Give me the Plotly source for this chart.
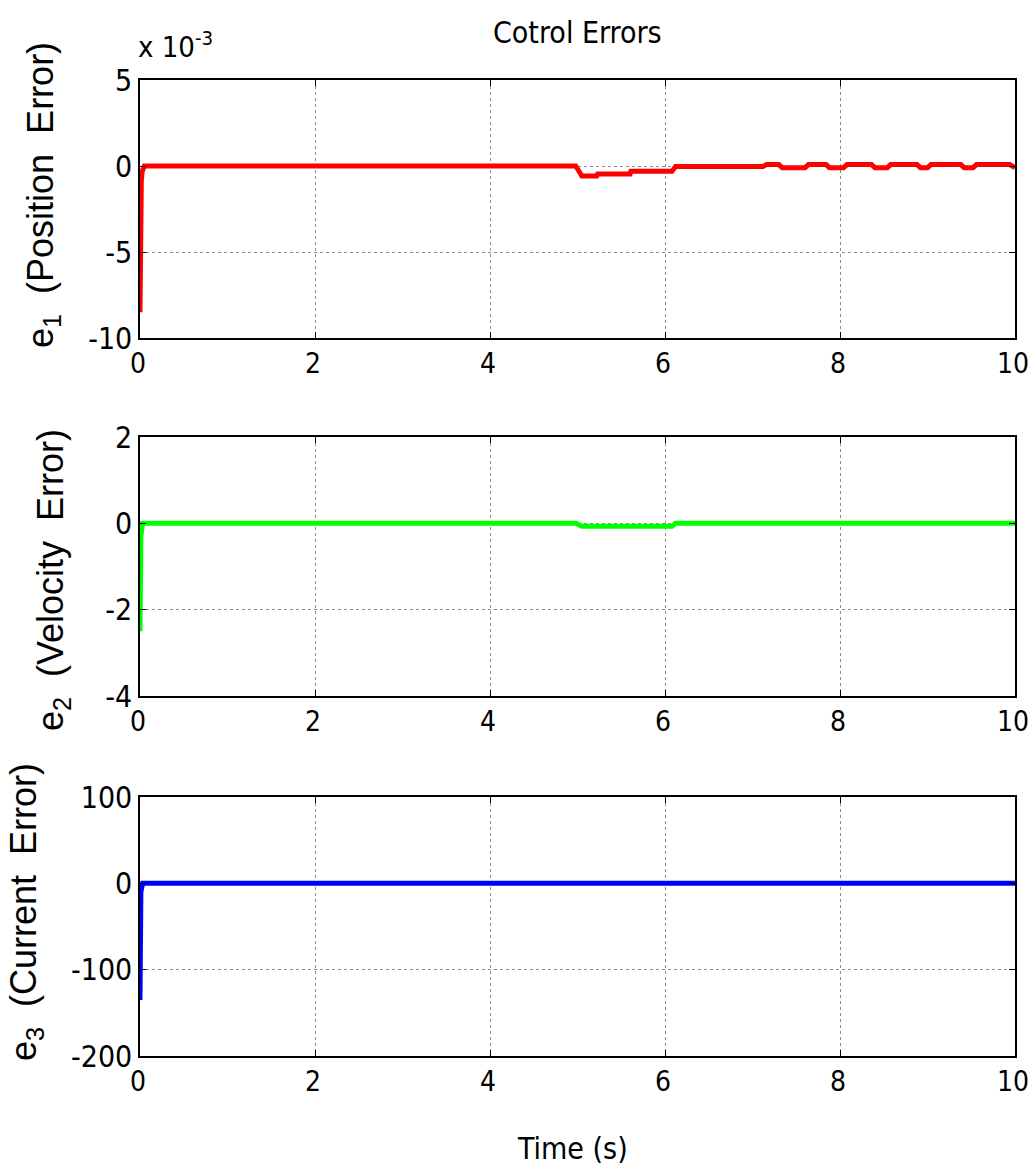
import plotly.graph_objects as go

# ---- data ----
t1 = [0, 0.003, 0.008, 0.015, 0.025, 0.05, 4.98, 5.05, 5.22, 5.23, 5.6, 5.61, 6.08, 6.12,
      7.12, 7.16, 7.3, 7.34, 7.6, 7.64, 7.84, 7.88, 8.04, 8.08, 8.36, 8.4, 8.54, 8.58,
      8.88, 8.92, 9.0, 9.04, 9.38, 9.42, 9.52, 9.56, 9.94, 9.98, 10]
e1 = [-8.5e-3, -5e-3, -1.2e-3, -0.9e-3, -0.3e-3, 0.0, 0.0, -0.58e-3, -0.58e-3, -0.47e-3, -0.47e-3, -0.3e-3, -0.3e-3, -0.03e-3,
      -0.03e-3, 0.08e-3, 0.08e-3, -0.1e-3, -0.1e-3, 0.08e-3, 0.08e-3, -0.1e-3, -0.1e-3, 0.08e-3, 0.08e-3, -0.1e-3, -0.1e-3, 0.08e-3,
      0.08e-3, -0.1e-3, -0.1e-3, 0.08e-3, 0.08e-3, -0.1e-3, -0.1e-3, 0.08e-3, 0.08e-3, -0.1e-3, -0.1e-3]

t2 = [0, 0.004, 0.01, 0.03, 4.98, 5.05, 6.08, 6.12, 10]
e2 = [-2.5, -1.2, -0.3, 0.0, 0.0, -0.07, -0.07, 0.0, 0.0]

t3 = [0, 0.004, 0.01, 0.03, 10]
e3 = [-135, -60, -10, 0, 0]

x_ticks = [0, 2, 4, 6, 8, 10]
x_labels = ["0", "2", "4", "6", "8", "10"]
y1_ticks = [-0.01, -0.005, 0, 0.005]
y1_labels = ["-10", "-5", "0", "5"]
y2_ticks = [-4, -2, 0, 2]
y2_labels = ["-4", "-2", "0", "2"]
y3_ticks = [-200, -100, 0, 100]
y3_labels = ["-200", "-100", "0", "100"]

W, H = 1030, 1171
FONT = "DejaVu Sans Condensed, Liberation Sans Narrow, Arial Narrow, Liberation Sans, sans-serif"
LFONT = "Liberation Sans, Arial, sans-serif"

fig = go.Figure()
fig.add_trace(go.Scatter(x=t1, y=e1, mode="lines", line=dict(color="#FF0000", width=5), xaxis="x", yaxis="y"))
fig.add_trace(go.Scatter(x=t2, y=e2, mode="lines", line=dict(color="#00FF00", width=5), xaxis="x2", yaxis="y2"))
fig.add_trace(go.Scatter(x=t3, y=e3, mode="lines", line=dict(color="#0000FF", width=5), xaxis="x3", yaxis="y3"))

xdom = [140 / W, 1015 / W]
def ydom(top, bot):
    return [1 - bot / H, 1 - top / H]

common = dict(showline=True, linecolor="black", linewidth=1.5, mirror="allticks",
              ticks="inside", ticklen=6, tickcolor="black", tickwidth=1,
              showgrid=True, gridcolor="#8c8c8c", griddash="dot", gridwidth=1,
              zeroline=False, automargin=False, ticklabeloverflow="allow",
              tickfont=dict(family=FONT, size=30, color="black"))

axes = {}
for i, (top, bot, yt, yr, ytxt) in enumerate([
        (80, 338, y1_ticks, [-0.01, 0.005], y1_labels),
        (437, 696, y2_ticks, [-4, 2], y2_labels),
        (797, 1056, y3_ticks, [-200, 100], y3_labels)]):
    s = "" if i == 0 else str(i + 1)
    axes["xaxis" + s] = dict(common, domain=xdom, range=[0, 10], tickvals=x_ticks,
                             ticktext=x_labels, anchor="y" + s, ticklabelshift=-2,
                             tickfont=dict(family=FONT, size=28, color="black"))
    axes["yaxis" + s] = dict(common, domain=ydom(top, bot), range=yr, tickvals=yt,
                             ticktext=ytxt, anchor="x" + s)

nb = "\u00a0"
annotations = [
    dict(text="Cotrol Errors", x=577 / W, y=1 - 33 / H, xref="paper", yref="paper",
         showarrow=False, font=dict(family=FONT, size=30, color="black"), xanchor="center", yanchor="middle"),
    dict(text="x 10<sup>-3</sup>", x=136 / W, y=1 - 45 / H, xref="paper", yref="paper",
         showarrow=False, font=dict(family=FONT, size=29, color="black"), xanchor="left", yanchor="middle"),
    dict(text="Time (s)", x=572 / W, y=1 - 1148 / H, xref="paper", yref="paper",
         showarrow=False, font=dict(family=FONT, size=30, color="black"), xanchor="center", yanchor="middle"),
    dict(text=f"e<sub>1</sub>{nb}{nb}(Position{nb}{nb}Error)", x=43 / W, y=1 - 195 / H, xref="paper", yref="paper",
         textangle=-90, showarrow=False, font=dict(family=LFONT, size=36, color="black"),
         xanchor="center", yanchor="middle"),
    dict(text=f"e<sub>2</sub>{nb}{nb}(Velocity{nb}{nb}Error)", x=53 / W, y=1 - 580 / H, xref="paper", yref="paper",
         textangle=-90, showarrow=False, font=dict(family=LFONT, size=36, color="black"),
         xanchor="center", yanchor="middle"),
    dict(text=f"e<sub>3</sub>{nb}{nb}(Current{nb}{nb}Error)", x=26 / W, y=1 - 912 / H, xref="paper", yref="paper",
         textangle=-90, showarrow=False, font=dict(family=LFONT, size=36, color="black"),
         xanchor="center", yanchor="middle"),
]

fig.update_layout(width=W, height=H, margin=dict(l=0, r=0, t=0, b=0, pad=0),
                  paper_bgcolor="white", plot_bgcolor="white", showlegend=False,
                  annotations=annotations, **axes)

fig.write_html("out.html", config={"responsive": False, "displayModeBar": False},
               post_script="document.body.style.margin='0';document.body.style.overflow='hidden';")
